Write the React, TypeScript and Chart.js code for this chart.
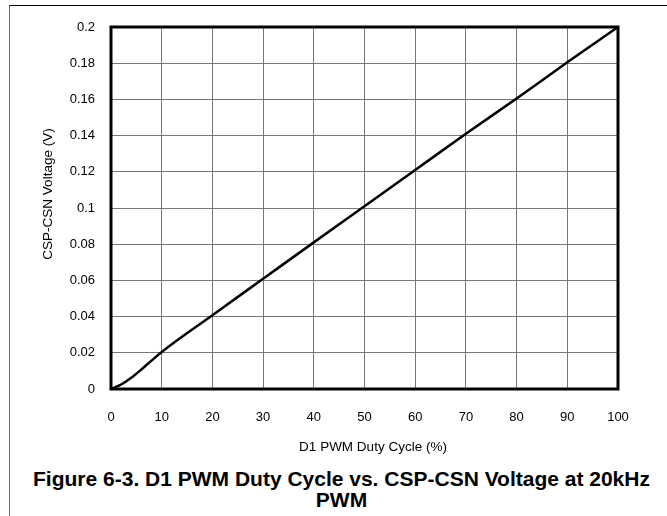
import React, { useEffect, useRef } from "react";
import { Chart, registerables } from "chart.js";

Chart.register(...registerables);

const dutyCycle = [0, 2, 4, 6, 8, 10, 20, 30, 40, 50, 60, 70, 80, 90, 100];
const voltage = [0, 0.0025, 0.0062, 0.0108, 0.0157, 0.0205, 0.0408, 0.0609, 0.081, 0.101, 0.121, 0.141, 0.1605, 0.1805, 0.2];
const xTicks = [0, 10, 20, 30, 40, 50, 60, 70, 80, 90, 100];
const xTickLabels = ["0", "10", "20", "30", "40", "50", "60", "70", "80", "90", "100"];
const yTicks = [0, 0.02, 0.04, 0.06, 0.08, 0.1, 0.12, 0.14, 0.16, 0.18, 0.2];
const yTickLabels = ["0", "0.02", "0.04", "0.06", "0.08", "0.1", "0.12", "0.14", "0.16", "0.18", "0.2"];
const xTitle = "D1 PWM Duty Cycle (%)";
const yTitle = "CSP-CSN Voltage (V)";
const captionLine1 = "Figure 6-3. D1 PWM Duty Cycle vs. CSP-CSN Voltage at 20kHz";
const captionLine2 = "PWM";

const FONT = "'Liberation Sans', Arial, sans-serif";

const frameAndTitles = {
  id: "frameAndTitles",
  afterDatasetsDraw(chart: any) {
    const { ctx, chartArea } = chart;
    ctx.save();
    ctx.strokeStyle = "#000";
    ctx.lineWidth = 3;
    ctx.strokeRect(chartArea.left, chartArea.top, chartArea.right - chartArea.left, chartArea.bottom - chartArea.top);
    ctx.fillStyle = "#000";
    ctx.font = `13.5px ${FONT}`;
    ctx.textAlign = "center";
    ctx.textBaseline = "middle";
    const cx = (chartArea.left + chartArea.right) / 2;
    const cy = (chartArea.top + chartArea.bottom) / 2;
    ctx.fillText(xTitle, cx + 8.5, chartArea.bottom + 58);
    ctx.translate(48, cy - 14);
    ctx.rotate(-Math.PI / 2);
    ctx.fillText(yTitle, 0, 0);
    ctx.restore();
  },
};

export default function App() {
  const ref = useRef<HTMLCanvasElement>(null);
  useEffect(() => {
    document.body.style.margin = "0";
    const chart = new Chart(ref.current!, {
      type: "line",
      data: {
        datasets: [
          {
            data: dutyCycle.map((x, i) => ({ x, y: voltage[i] })),
            borderColor: "#000",
            borderWidth: 2.5,
            pointRadius: 0,
            cubicInterpolationMode: "monotone",
            fill: false,
          },
        ],
      },
      options: {
        animation: false,
        responsive: false,
        devicePixelRatio: 1,
        layout: { padding: { top: 27, right: 49, left: 0, bottom: 0 } },
        plugins: { legend: { display: false }, tooltip: { enabled: false } },
        scales: {
          x: {
            type: "linear",
            min: 0,
            max: 100,
            afterBuildTicks: (s: any) => {
              s.ticks = xTicks.map((v) => ({ value: v }));
            },
            afterFit: (s: any) => {
              s.height = 77;
            },
            ticks: {
              callback: (v: any) => xTickLabels[xTicks.indexOf(Number(v))] ?? "",
              color: "#000",
              font: { family: FONT, size: 13 },
              padding: 21,
              maxRotation: 0,
            },
            grid: { color: "#777", lineWidth: 1, drawTicks: false },
            border: { display: false },
          },
          y: {
            type: "linear",
            min: 0,
            max: 0.2,
            afterBuildTicks: (s: any) => {
              s.ticks = yTicks.map((v) => ({ value: v }));
            },
            afterFit: (s: any) => {
              s.width = 111;
            },
            ticks: {
              callback: (v: any) => {
                const i = yTicks.findIndex((t) => Math.abs(t - Number(v)) < 1e-9);
                return i >= 0 ? yTickLabels[i] : "";
              },
              color: "#000",
              font: { family: FONT, size: 13 },
              padding: 16,
            },
            grid: { color: "#777", lineWidth: 1, drawTicks: false },
            border: { display: false },
          },
        },
      },
      plugins: [frameAndTitles],
    } as any);
    return () => chart.destroy();
  }, []);

  return (
    <div style={{ position: "absolute", left: 0, top: 0, width: 667, height: 516, background: "#fff", overflow: "hidden" }}>
      <div style={{ position: "absolute", left: 9, top: 5, right: 0, bottom: 0, borderLeft: "1px solid #666", borderTop: "1px solid #000" }} />
      <canvas ref={ref} width={667} height={466} style={{ position: "absolute", left: 0, top: 0, width: 667, height: 466 }} />
      <div
        style={{
          position: "absolute",
          left: 9,
          width: 665,
          top: 468,
          textAlign: "center",
          fontFamily: FONT,
          fontWeight: "bold",
          fontSize: 21,
          lineHeight: "21px",
          color: "#000",
          whiteSpace: "nowrap",
        }}
      >
        {captionLine1}
        <br />
        {captionLine2}
      </div>
    </div>
  );
}
